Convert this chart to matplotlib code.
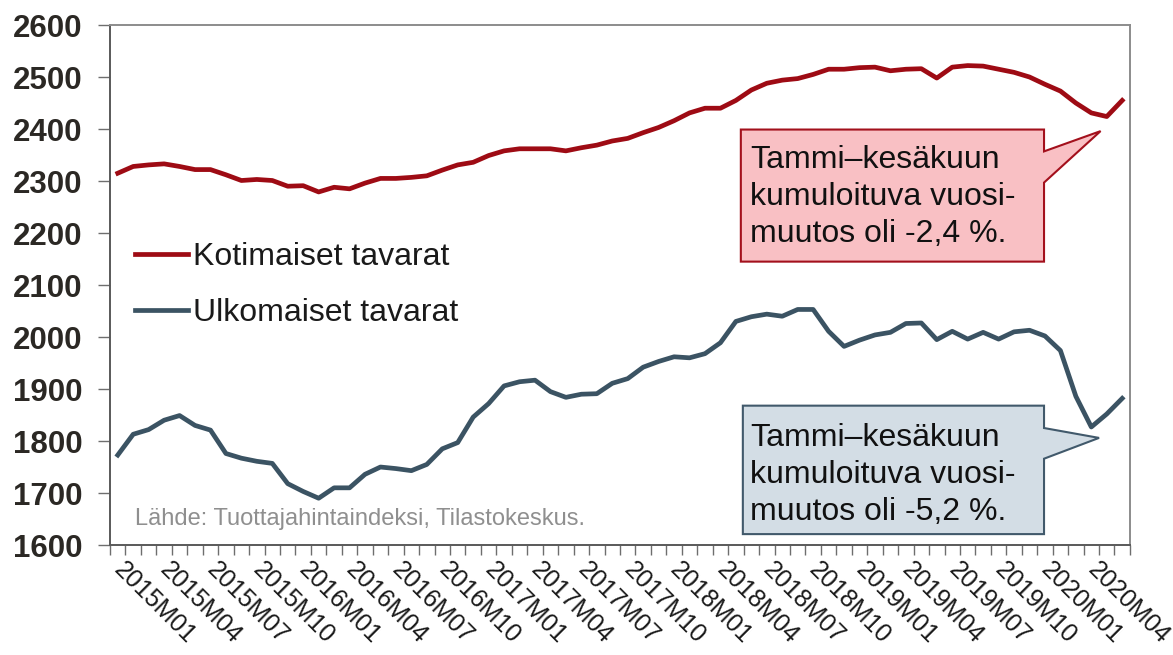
import matplotlib.pyplot as plt
from matplotlib.patches import Polygon
import numpy as np

plt.rcParams['font.family'] = ['Liberation Sans', 'DejaVu Sans']

# kuukaudet 2015M01 - 2020M06
vuodet = [2015, 2016, 2017, 2018, 2019, 2020]
kuukaudet = [f'{v}M{k:02d}' for v in vuodet for k in range(1, 13)][:66]

kotimaiset = [2315, 2328, 2331, 2333, 2328, 2322, 2322, 2312, 2301, 2303,
              2301, 2290, 2291, 2279, 2288, 2285, 2296, 2305, 2305, 2307,
              2310, 2321, 2331, 2336, 2349, 2358, 2362, 2362, 2362, 2358,
              2364, 2369, 2377, 2382, 2393, 2403, 2416, 2431, 2440, 2440,
              2455, 2475, 2488, 2494, 2497, 2505, 2515, 2515, 2518, 2519,
              2512, 2515, 2516, 2498, 2519, 2522, 2521, 2515, 2509, 2500,
              2486, 2473, 2450, 2431, 2424, 2455]

ulkomaiset = [1773, 1813, 1822, 1840, 1849, 1830, 1821, 1776, 1767, 1761,
              1757, 1718, 1703, 1690, 1710, 1710, 1736, 1750, 1747, 1743,
              1755, 1785, 1797, 1846, 1872, 1906, 1914, 1917, 1895, 1884,
              1890, 1891, 1911, 1920, 1942, 1953, 1962, 1960, 1968, 1989,
              2030, 2039, 2044, 2040, 2053, 2053, 2011, 1982, 1994, 2004,
              2009, 2026, 2027, 1995, 2011, 1996, 2009, 1996, 2010, 2013,
              2002, 1974, 1886, 1827, 1852, 1882]

sarjat = ['Kotimaiset tavarat', 'Ulkomaiset tavarat']
varit = ['#9e0b14', '#3b5363']

huomio_kotim = 'Tammi\u2013kesäkuun\nkumuloituva vuosi-\nmuutos oli -2,4 %.'
huomio_ulkom = 'Tammi\u2013kesäkuun\nkumuloituva vuosi-\nmuutos oli -5,2 %.'
lahde = 'Lähde: Tuottajahintaindeksi, Tilastokeskus.'

fig = plt.figure(figsize=(11.73, 6.55), dpi=100)
ax = fig.add_axes([0.0938, 0.1679, 0.8695, 0.7939])

x = np.arange(len(kuukaudet))
ax.plot(x, kotimaiset, color=varit[0], lw=3.4, label=sarjat[0])
ax.plot(x, ulkomaiset, color=varit[1], lw=3.4, label=sarjat[1])

ax.set_xlim(-0.5, len(kuukaudet) - 0.5)
ax.set_ylim(1600, 2600)
ax.set_yticks(range(1600, 2700, 100))

# kuukausien rajat pieninä tikkeinä, nimet joka kolmas kuukausi
ax.set_xticks(x[::3])
ax.set_xticklabels(kuukaudet[::3], rotation=-45, ha='left', va='center',
                   rotation_mode='anchor', fontsize=18, color='#1a1a1a')
ax.set_xticks(np.arange(-0.5, len(kuukaudet), 1), minor=True)
ax.tick_params(axis='x', which='major', length=0, pad=15)
ax.tick_params(axis='x', which='minor', length=7, width=1, color='#6e6e6e')
ax.tick_params(axis='y', length=9, width=1, color='#6e6e6e', pad=11)
for t in ax.get_yticklabels():
    t.set_fontsize(22.5)
    t.set_fontweight('bold')
    t.set_color('#2b2824')

for nimi, s in ax.spines.items():
    s.set_color('#595959' if nimi in ('left', 'bottom') else '#8c8c8c')
    s.set_linewidth(1.4)

ax.legend(loc='upper left', bbox_to_anchor=(0.0245, 0.583), frameon=False,
          fontsize=23, handlelength=1.65, handletextpad=0.15,
          labelspacing=0.82, borderpad=0, borderaxespad=0,
          labelcolor='#1a1a1a')

ax.text(0.0245, 0.05, lahde, transform=ax.transAxes, va='center',
        fontsize=17, color='#8f8f8f')

# puhekuplat (laatikko + kärki)
def kupla(vasen, oikea, yla, ala, k1, karki, k2, tausta, reuna):
    pts = [(vasen, yla), (oikea, yla), (oikea, k1), karki, (oikea, k2),
           (oikea, ala), (vasen, ala)]
    ax.add_patch(Polygon(pts, closed=True, facecolor=tausta, edgecolor=reuna,
                         lw=1.5, zorder=4))

kupla(40.32, 59.94, 2399, 2145, 2357, (63.6, 2396), 2297,
      '#f9c0c4', '#a3101c')
kupla(40.45, 59.94, 1868, 1621, 1825, (63.5, 1806), 1766,
      '#d3dde5', '#41596b')

ax.text(40.9, 2369, huomio_kotim, fontsize=23, va='top', ha='left',
        color='#111111', linespacing=1.3, zorder=5)
ax.text(40.9, 1834, huomio_ulkom, fontsize=23, va='top', ha='left',
        color='#111111', linespacing=1.3, zorder=5)

fig.savefig('out.png', dpi=100)
